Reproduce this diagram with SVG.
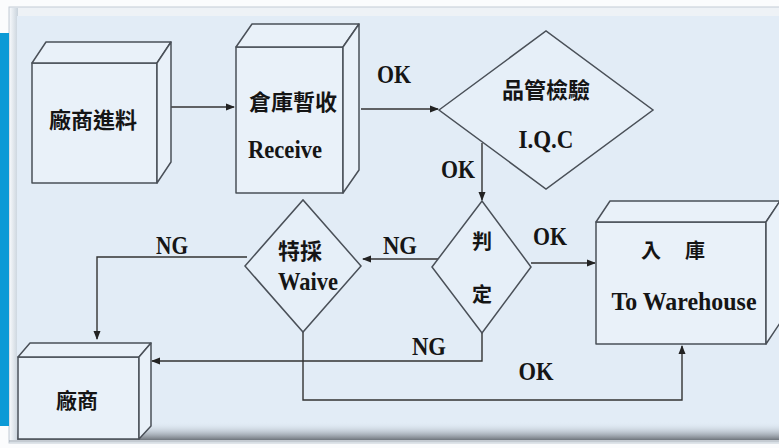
<svg xmlns="http://www.w3.org/2000/svg" width="779" height="448" viewBox="0 0 779 448">
<defs>
<style>
.box{fill:#e9f1f9;stroke:#4a5058;stroke-width:1.5;stroke-linejoin:round}
.dia{fill:#e6eff8;stroke:#4a5058;stroke-width:1.5}
.ln{fill:none;stroke:#333;stroke-width:1.4}
.zh{font-family:"Noto Sans CJK TC","Noto Sans CJK SC",sans-serif;font-weight:bold;fill:#151515;text-anchor:middle;dominant-baseline:central}
.en{font-family:"Liberation Serif","Times New Roman",serif;font-weight:bold;fill:#151515;text-anchor:middle;font-size:25px}
</style>
<marker id="ah" markerWidth="9" markerHeight="8" refX="8" refY="4" orient="auto" markerUnits="userSpaceOnUse">
<path d="M0,0.5 L9,4 L0,7.5 Z" fill="#222"/>
</marker>
<linearGradient id="shadow" x1="0" y1="0" x2="0" y2="1">
<stop offset="0" stop-color="#e2ecf6" stop-opacity="0"/>
<stop offset="1" stop-color="#6f757c"/>
</linearGradient>
<linearGradient id="bevelL" x1="0" y1="0" x2="1" y2="0">
<stop offset="0" stop-color="#f4f7fa"/>
<stop offset="1" stop-color="#c9d3dc"/>
</linearGradient>
</defs>
<rect x="0" y="0" width="779" height="448" fill="#fbfcfd"/>
<rect x="9" y="7" width="780" height="436" fill="#eef2f6" stroke="#c3ccd5" stroke-width="1"/>
<rect x="10" y="8" width="8" height="432" fill="url(#bevelL)"/>
<rect x="17" y="16" width="762" height="424" fill="#e2ecf6"/>
<rect x="17" y="422" width="762" height="18" fill="url(#shadow)"/>
<line x1="9" y1="441" x2="779" y2="441" stroke="#9aa3ad" stroke-width="1"/>
<rect x="0" y="33" width="9" height="393" fill="#0b9ad6"/>

<g id="connectors">
<path class="ln" d="M169,107 H234" marker-end="url(#ah)"/>
<path class="ln" d="M361,109 H438" marker-end="url(#ah)"/>
<path class="ln" d="M482,143 V200" marker-end="url(#ah)"/>
<path class="ln" d="M531,263 H595" marker-end="url(#ah)"/>
<path class="ln" d="M438,259 H363" marker-end="url(#ah)"/>
<path class="ln" d="M247,257 H97 V339" marker-end="url(#ah)"/>
<path class="ln" d="M482,333 V361 H152" marker-end="url(#ah)"/>
<path class="ln" d="M303,332 V400 H682 V346" marker-end="url(#ah)"/>
<text class="en" x="394" y="83" textLength="34" lengthAdjust="spacingAndGlyphs">OK</text>
<text class="en" x="458" y="178" textLength="34" lengthAdjust="spacingAndGlyphs">OK</text>
<text class="en" x="550" y="245" textLength="34" lengthAdjust="spacingAndGlyphs">OK</text>
<text class="en" x="400" y="254" textLength="34" lengthAdjust="spacingAndGlyphs">NG</text>
<text class="en" x="172" y="254" textLength="32" lengthAdjust="spacingAndGlyphs">NG</text>
<text class="en" x="429" y="355" textLength="34" lengthAdjust="spacingAndGlyphs">NG</text>
<text class="en" x="536" y="380" textLength="35" lengthAdjust="spacingAndGlyphs">OK</text>
</g>

<g id="n-vendor-in">
<rect class="box" x="32" y="63" width="125" height="120"/>
<polygon class="box" points="32,63 46,42 171,42 157,63"/>
<polygon class="box" points="157,63 171,42 171,162 157,183"/>
<text class="zh" x="93" y="118" font-size="22">廠商進料</text>
</g>

<g id="n-receive">
<rect class="box" x="236" y="47" width="107" height="146"/>
<polygon class="box" points="236,47 252,24 359,24 343,47"/>
<polygon class="box" points="343,47 359,24 359,170 343,193"/>
<text class="zh" x="293" y="100" font-size="22">倉庫暫收</text>
<text class="en" x="285" y="158" textLength="74" lengthAdjust="spacingAndGlyphs">Receive</text>
</g>

<g id="n-iqc">
<polygon class="dia" points="439,110 546,31 653,110 546,189"/>
<text class="zh" x="546" y="88" font-size="22">品管檢驗</text>
<text class="en" x="546" y="148" textLength="55" lengthAdjust="spacingAndGlyphs">I.Q.C</text>
</g>

<g id="n-judge">
<polygon class="dia" points="432,267 482,201 531,267 482,333"/>
<text class="zh" x="482" y="240" font-size="20">判</text>
<text class="zh" x="482" y="293" font-size="20">定</text>
</g>

<g id="n-waive">
<polygon class="dia" points="245,266 303,200 361,266 303,332"/>
<text class="zh" x="300" y="249" font-size="22">特採</text>
<text class="en" x="308" y="290" textLength="60" lengthAdjust="spacingAndGlyphs">Waive</text>
</g>

<g id="n-warehouse">
<rect class="box" x="596" y="222" width="170" height="122"/>
<polygon class="box" points="596,222 610,201 780,201 766,222"/>
<polygon class="box" points="766,222 780,201 780,323 766,344"/>
<text class="zh" x="651" y="249" font-size="20">入</text>
<text class="zh" x="695" y="249" font-size="20">庫</text>
<text class="en" x="684" y="310" textLength="145" lengthAdjust="spacingAndGlyphs">To  Warehouse</text>
</g>

<g id="n-vendor">
<rect class="box" x="18" y="357" width="121" height="82"/>
<polygon class="box" points="18,357 30,343 151,343 139,357"/>
<polygon class="box" points="139,357 151,343 151,426 139,439"/>
<text class="zh" x="77" y="399" font-size="21">廠商</text>
</g>
</svg>
